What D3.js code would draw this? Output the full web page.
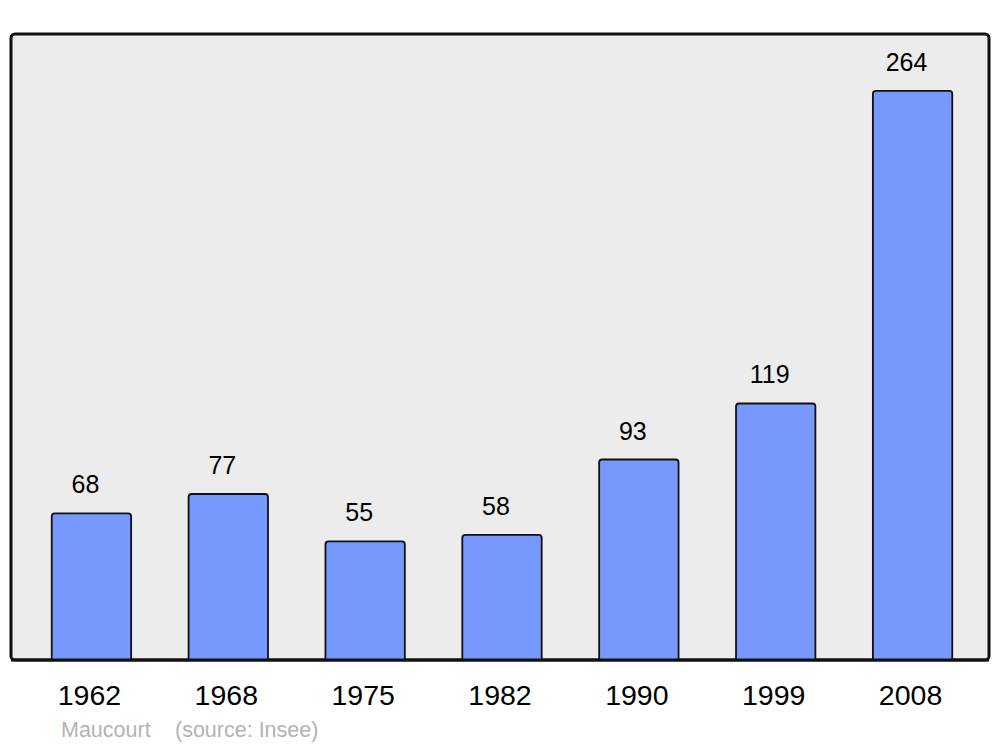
<!DOCTYPE html>
<html><head><meta charset="utf-8">
<script src="https://cdn.jsdelivr.net/npm/d3@7"></script>
<style>body{margin:0;background:#fff}svg{display:block}text{font-family:"Liberation Sans",Arial,sans-serif}</style>
</head><body>
<script>
const years = ["1962","1968","1975","1982","1990","1999","2008"];
const population = [68,77,55,58,93,119,264];
const sourceAuthor = "Maucourt";
const sourceText = "(source: Insee)";

const W=1000,H=747;
const svg=d3.select("body").append("svg").attr("width",W).attr("height",H);
const frame={x0:11,x1:989,y0:34,y1:660};
svg.append("rect").attr("x",frame.x0).attr("y",frame.y0).attr("width",frame.x1-frame.x0).attr("height",frame.y1-frame.y0)
  .attr("rx",4).attr("fill","#ececec").attr("stroke","#111").attr("stroke-width",3);

const x=d3.scaleBand().domain(years).range([23,981]).paddingInner(0.42).paddingOuter(0.21);
const y=d3.scaleLinear().domain([0,d3.max(population)*1.1]).range([frame.y1,frame.y0]);

const data=years.map((yr,i)=>({yr,v:population[i]}));
const g=svg.append("g");
g.selectAll("path.bar").data(data).enter().append("path").attr("class","bar")
  .attr("d",d=>{const x0=x(d.yr),x1=x0+x.bandwidth(),t=y(d.v),b=y(0),r=3;
    return `M${x0},${b}L${x0},${t+r}Q${x0},${t} ${x0+r},${t}L${x1-r},${t}Q${x1},${t} ${x1},${t+r}L${x1},${b}`;})
  .attr("fill","#7799ff").attr("stroke","#111").attr("stroke-width",1.8);

g.selectAll("text.val").data(data).enter().append("text")
  .attr("x",d=>x(d.yr)+x.bandwidth()/2-6).attr("y",d=>y(d.v)-20)
  .attr("text-anchor","middle").attr("font-size",25).attr("fill","#000").text(d=>d.v);

svg.append("line").attr("x1",frame.x0).attr("x2",frame.x1).attr("y1",frame.y1).attr("y2",frame.y1).attr("stroke","#111").attr("stroke-width",3);

const xAxis=svg.append("g").attr("transform",`translate(-2,${frame.y1})`)
  .call(d3.axisBottom(x).tickSize(0).tickPadding(0));
xAxis.select(".domain").remove();
xAxis.selectAll("text").attr("font-size",28.5).attr("fill","#000").attr("dy",0).attr("y",45)
  .attr("font-family","Liberation Sans, Arial, sans-serif");

svg.append("text").attr("x",61).attr("y",737).attr("font-size",21.5).attr("fill","#b3b3b3").text(sourceAuthor);
svg.append("text").attr("x",175).attr("y",737).attr("font-size",21.5).attr("fill","#b3b3b3").text(sourceText);
</script>
</body></html>
